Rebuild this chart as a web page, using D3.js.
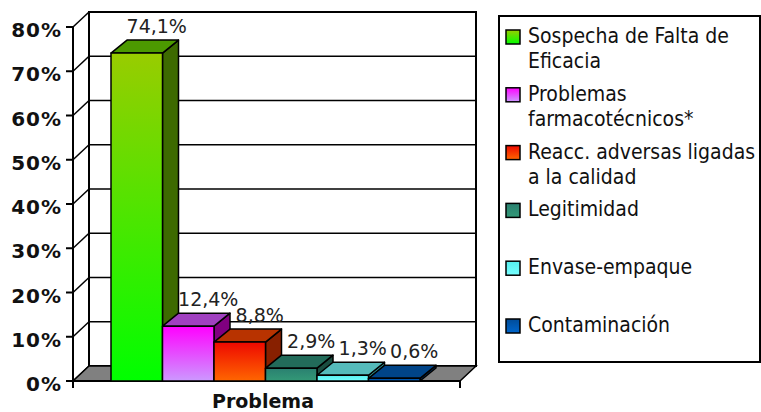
<!DOCTYPE html>
<html>
<head>
<meta charset="utf-8">
<script src="https://cdn.jsdelivr.net/npm/d3@7"></script>
<style>
  body { margin: 0; background: #fff; }
  svg { display: block; }
</style>
</head>
<body>
<svg id="chart" width="761" height="412"></svg>
<script>
//categories and values
var categories = ["Sospecha de Falta de Eficacia", "Problemas farmacotécnicos*",
  "Reacc. adversas ligadas a la calidad", "Legitimidad", "Envase-empaque", "Contaminación"];
var legendLines = [["Sospecha de Falta de", "Eficacia"], ["Problemas", "farmacotécnicos*"],
  ["Reacc. adversas ligadas", "a la calidad"], ["Legitimidad"], ["Envase-empaque"], ["Contaminación"]];
var values = [74.1, 12.4, 8.8, 2.9, 1.3, 0.6];
var valueLabels = ["74,1%", "12,4%", "8,8%", "2,9%", "1,3%", "0,6%"];
var yTicks = [0, 10, 20, 30, 40, 50, 60, 70, 80];

//face colours: front top, front bottom, side, top
var frontTop = ["#99cc00", "#ff00ff", "#ee0800", "#2a8070", "#55eeee", "#004c99"];
var frontBottom = ["#00ff00", "#cc99ff", "#ff6600", "#339977", "#77ffff", "#0066cc"];
var sideColor = ["#3d6a00", "#800080", "#882000", "#1a4d40", "#2f9a9a", "#003366"];
var topColor = ["#4c9900", "#a040c0", "#b83300", "#226b5a", "#55bbbb", "#004488"];

var svg = d3.select("#chart");
var defs = svg.append("defs");

//3d geometry
var floorDx = 16, floorDy = -15;
var barDx = 16, barDy = -13;

var y = d3.scaleLinear().domain([0, 80]).range([381, 27]);
var x = d3.scaleBand().domain(categories).range([111, 420]).padding(0);
var floorLeft = 73, floorRight = 460;

//gradients for bar fronts
categories.forEach(function(c, i) {
  var g = defs.append("linearGradient").attr("id", "grad" + i)
    .attr("x1", 0).attr("y1", 0).attr("x2", 0).attr("y2", 1);
  g.append("stop").attr("offset", "0%").attr("stop-color", frontTop[i]);
  g.append("stop").attr("offset", "100%").attr("stop-color", frontBottom[i]);
});

var axisColor = "#000";

//back wall
svg.append("rect")
  .attr("x", floorLeft + floorDx).attr("y", y(80) + floorDy)
  .attr("width", floorRight - floorLeft).attr("height", y(0) - y(80))
  .attr("fill", "#fff").attr("stroke", axisColor).attr("stroke-width", 2);

//gridlines on back wall and left wall
svg.append("g").selectAll("line.grid")
  .data(yTicks)
  .enter().append("line")
  .attr("x1", floorLeft + floorDx).attr("x2", floorRight + floorDx)
  .attr("y1", function(d) { return y(d) + floorDy; })
  .attr("y2", function(d) { return y(d) + floorDy; })
  .attr("stroke", axisColor).attr("stroke-width", 1.5);

svg.append("g").selectAll("line.diag")
  .data(yTicks)
  .enter().append("line")
  .attr("x1", floorLeft).attr("x2", floorLeft + floorDx)
  .attr("y1", function(d) { return y(d); })
  .attr("y2", function(d) { return y(d) + floorDy; })
  .attr("stroke", axisColor).attr("stroke-width", 1.5);

//floor
svg.append("polygon")
  .attr("points", [[floorLeft, y(0)], [floorLeft + floorDx, y(0) + floorDy],
    [floorRight + floorDx, y(0) + floorDy], [floorRight, y(0)]].join(" "))
  .attr("fill", "#808080").attr("stroke", axisColor).attr("stroke-width", 1.5);

//y axis
svg.append("line")
  .attr("x1", floorLeft).attr("x2", floorLeft)
  .attr("y1", y(80)).attr("y2", y(0) + 7)
  .attr("stroke", axisColor).attr("stroke-width", 2);
svg.append("line")
  .attr("x1", floorLeft + floorDx).attr("x2", floorLeft + floorDx)
  .attr("y1", y(80) + floorDy).attr("y2", y(0) + floorDy)
  .attr("stroke", axisColor).attr("stroke-width", 2);

var yAxis = svg.append("g");
yAxis.selectAll("line")
  .data(yTicks)
  .enter().append("line")
  .attr("x1", floorLeft - 7).attr("x2", floorLeft)
  .attr("y1", function(d) { return y(d); })
  .attr("y2", function(d) { return y(d); })
  .attr("stroke", axisColor).attr("stroke-width", 2);
yAxis.selectAll("text")
  .data(yTicks)
  .enter().append("text")
  .attr("x", 62).attr("y", function(d) { return y(d) + 10; })
  .attr("text-anchor", "end")
  .style("font-family", "DejaVu Sans, Verdana, sans-serif")
  .style("font-weight", "bold").style("font-size", "20px")
  .style("letter-spacing", "1px")
  .attr("fill", "#111")
  .text(function(d) { return d + "%"; });

//x axis baseline and ticks
svg.append("line")
  .attr("x1", floorLeft - 7).attr("x2", floorRight)
  .attr("y1", y(0)).attr("y2", y(0))
  .attr("stroke", axisColor).attr("stroke-width", 2);
svg.append("line")
  .attr("x1", floorRight).attr("x2", floorRight)
  .attr("y1", y(0)).attr("y2", y(0) + 7)
  .attr("stroke", axisColor).attr("stroke-width", 2);

//bars, drawn left to right with their labels
var bw = x.bandwidth();
categories.forEach(function(c, i) {
  var v = values[i];
  var x0 = x(c), y0 = y(0), y1 = y(v);
  var bar = svg.append("g").attr("stroke", "#000").attr("stroke-width", 1.5)
    .attr("stroke-linejoin", "round");
  bar.append("polygon")
    .attr("points", [[x0 + bw, y1], [x0 + bw + barDx, y1 + barDy],
      [x0 + bw + barDx, y0 + barDy], [x0 + bw, y0]].join(" "))
    .attr("fill", sideColor[i]);
  bar.append("polygon")
    .attr("points", [[x0, y1], [x0 + barDx, y1 + barDy],
      [x0 + bw + barDx, y1 + barDy], [x0 + bw, y1]].join(" "))
    .attr("fill", topColor[i]);
  bar.append("rect")
    .attr("x", x0).attr("y", y1)
    .attr("width", bw).attr("height", y0 - y1)
    .attr("fill", "url(#grad" + i + ")");
  svg.append("text")
    .attr("x", x0 + bw / 2 + 20).attr("y", y1 + barDy - 7)
    .attr("text-anchor", "middle")
    .style("font-family", "DejaVu Sans, Verdana, sans-serif")
    .style("font-size", "19px")
    .attr("fill", "#222")
    .text(valueLabels[i]);
});

//axis title
svg.append("text")
  .attr("x", 263).attr("y", 408)
  .attr("text-anchor", "middle")
  .style("font-family", "DejaVu Sans, Verdana, sans-serif")
  .style("font-weight", "bold").style("font-size", "19px")
  .attr("fill", "#111")
  .text("Problema");

//legend
var legend = svg.append("g");
legend.append("rect")
  .attr("x", 499).attr("y", 16).attr("width", 261).attr("height", 346)
  .attr("fill", "#fff").attr("stroke", "#000").attr("stroke-width", 2);

var item = legend.selectAll("g.item")
  .data(categories)
  .enter().append("g")
  .attr("transform", function(d, i) { return "translate(506," + (43 + i * 57.8) + ")"; });
item.append("rect")
  .attr("x", 0).attr("y", -13).attr("width", 14).attr("height", 14)
  .attr("fill", function(d, i) { return "url(#grad" + i + ")"; })
  .attr("stroke", "#000").attr("stroke-width", 1.5);
item.append("text")
  .attr("x", 22).attr("y", 0)
  .style("font-family", "DejaVu Sans Condensed, DejaVu Sans, sans-serif")
  .style("font-size", "21px")
  .attr("fill", "#111")
  .selectAll("tspan")
  .data(function(d, i) { return legendLines[i]; })
  .enter().append("tspan")
  .attr("x", 22)
  .attr("dy", function(d, j) { return j === 0 ? 0 : 25; })
  .text(function(d) { return d; });
</script>
</body>
</html>
